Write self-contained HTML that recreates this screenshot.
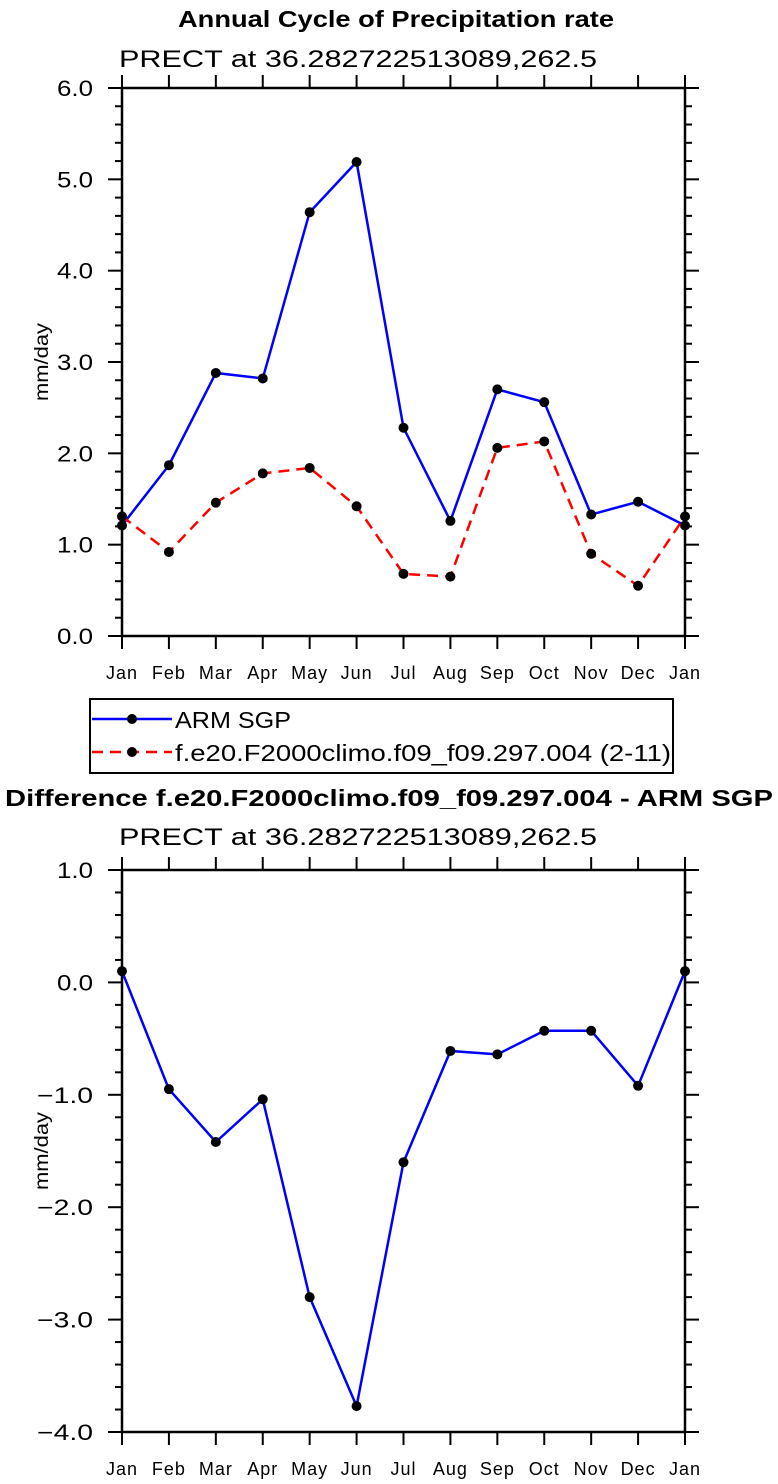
<!DOCTYPE html>
<html><head><meta charset="utf-8"><style>
body{margin:0;background:#fff}
svg{display:block;font-family:"Liberation Sans",sans-serif}
</style></head><body>
<svg id="s" width="778" height="1484" viewBox="0 0 778 1484">
<text x="178" y="27" font-size="23" font-weight="bold" textLength="436" lengthAdjust="spacingAndGlyphs">Annual Cycle of Precipitation rate</text>
<text x="119" y="67" font-size="24" textLength="478" lengthAdjust="spacingAndGlyphs">PRECT at 36.282722513089,262.5</text>
<text x="5" y="806" font-size="23" font-weight="bold" textLength="768" lengthAdjust="spacingAndGlyphs">Difference f.e20.F2000climo.f09_f09.297.004 - ARM SGP</text>
<text x="119" y="845" font-size="24" textLength="478" lengthAdjust="spacingAndGlyphs">PRECT at 36.282722513089,262.5</text>
<g>
<rect x="90" y="699" width="583" height="74" fill="none" stroke="#000" stroke-width="2"/>
<g>
<line x1="92" y1="719" x2="172" y2="719" stroke="#0000ff" stroke-width="2.5"/>
<circle cx="132" cy="719" r="5"/>
<text x="175" y="728" font-size="23" textLength="116" lengthAdjust="spacingAndGlyphs">ARM SGP</text></g>
<g>
<line x1="92" y1="752" x2="172" y2="752" stroke="#ff0000" stroke-width="2.5" stroke-dasharray="11,7"/>
<circle cx="132" cy="752" r="5"/>
<text x="175" y="761" font-size="23" textLength="496" lengthAdjust="spacingAndGlyphs">f.e20.F2000climo.f09_f09.297.004 (2-11)</text></g>
</g>
</svg>
<script>
const months=["Jan","Feb","Mar","Apr","May","Jun","Jul","Aug","Sep","Oct","Nov","Dec","Jan"];
const armValues=[1.21,1.87,2.88,2.82,4.64,5.19,2.28,1.26,2.70,2.56,1.33,1.47,1.21];
const modelValues=[1.31,0.92,1.46,1.78,1.84,1.42,0.68,0.65,2.06,2.13,0.90,0.55,1.31];
const diffValues=[0.10,-0.95,-1.42,-1.04,-2.80,-3.77,-1.60,-0.61,-0.64,-0.43,-0.43,-0.92,0.10];
const topTicks=["0.0","1.0","2.0","3.0","4.0","5.0","6.0"];
const bottomTicks=["-4.0","-3.0","-2.0","-1.0","0.0","1.0"];
const NS="http://www.w3.org/2000/svg";
const svg=document.getElementById('s');
function mk(tag,attrs,parent){const e=document.createElementNS(NS,tag);for(const k in attrs)e.setAttribute(k,attrs[k]);(parent||svg).appendChild(e);return e;}
function panel(name,top,bottom,ymin,ymax,ticks,series){
  const L=122,R=685;
  const g=mk('g',{});
  
  
  const x=i=>L+(R-L)*i/(months.length-1);
  const y=v=>bottom-(v-ymin)/(ymax-ymin)*(bottom-top);
  for(let v=ymin;v<=ymax+1e-9;v+=0.2){
    const yy=y(v);const major=Math.abs(v-Math.round(v))<1e-6;
    const len=major?14:7;
    mk('line',{x1:L-len,y1:yy,x2:L,y2:yy,stroke:'#000','stroke-width':2},g);
    mk('line',{x1:R,y1:yy,x2:R+len,y2:yy,stroke:'#000','stroke-width':2},g);
  }
  ticks.forEach(t=>{
    const v=parseFloat(t);
    const neg=t[0]==='-';
    const tx=mk('text',{x:93,y:y(v)+8,'font-size':22,'text-anchor':'end',textLength:neg?56:36,lengthAdjust:'spacingAndGlyphs'},g);
    
    
    tx.textContent=t.replace('-','\u2212');
  });
  months.forEach((m,i)=>{
    mk('line',{x1:x(i),y1:bottom,x2:x(i),y2:bottom+13,stroke:'#000','stroke-width':2},g);
    mk('line',{x1:x(i),y1:top-13,x2:x(i),y2:top,stroke:'#000','stroke-width':2},g);
    const tx=mk('text',{x:x(i),y:bottom+43,'font-size':18,'text-anchor':'middle','letter-spacing':'1'},g);
    
    
    tx.textContent=m;
  });
  const fr=mk('rect',{x:L,y:top,width:R-L,height:bottom-top,fill:'none',stroke:'#000','stroke-width':2.5},g);
  
  
  const yl=mk('text',{x:0,y:0,'font-size':19,'text-anchor':'middle',textLength:78,lengthAdjust:'spacingAndGlyphs',transform:`translate(48,${(top+bottom)/2}) rotate(-90)`},g);
  
  
  yl.textContent='mm/day';
  series.forEach(s=>{
    const pts=s.vals.map((v,i)=>x(i)+','+y(v)).join(' ');
    const pl=mk('polyline',{points:pts,fill:'none',stroke:s.color,'stroke-width':2.5,'stroke-dasharray':s.dash||'none'},g);
    
    
    s.vals.forEach((v,i)=>{
      const c=mk('circle',{cx:x(i),cy:y(v),r:5,fill:'#000'},g);
      
      
    });
  });
}
panel('top-chart',88,636,0,6,topTicks,[{name:'arm-sgp',vals:armValues,color:'#0000ff'},{name:'model',vals:modelValues,color:'#ff0000',dash:'11,7'}]);
panel('difference-chart',870,1432,-4,1,bottomTicks,[{name:'difference',vals:diffValues,color:'#0000ff'}]);
</script>
</body></html>
